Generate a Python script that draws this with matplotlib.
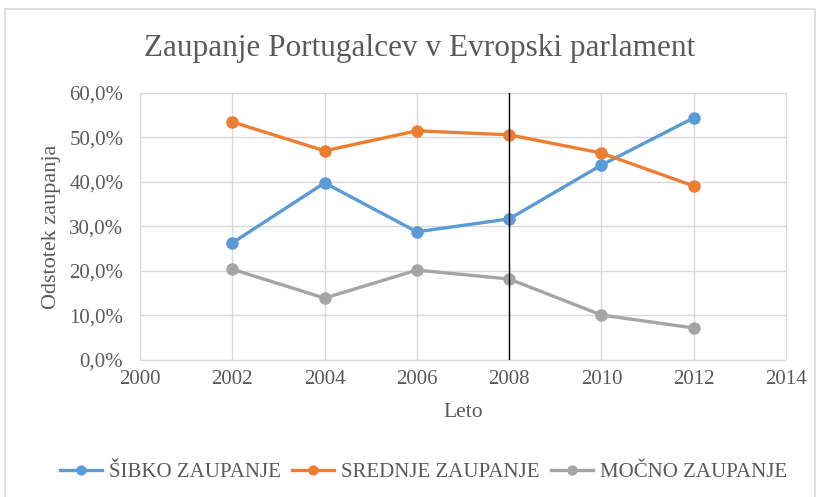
import matplotlib.pyplot as plt
from matplotlib.patches import Rectangle
from matplotlib.ticker import FuncFormatter, MultipleLocator

plt.rcParams["font.family"] = ["Liberation Serif", "DejaVu Serif"]

years = [2002, 2004, 2006, 2008, 2010, 2012]
sibko = [26.3, 39.8, 28.8, 31.7, 43.8, 54.4]
srednje = [53.5, 47.0, 51.5, 50.6, 46.5, 39.1]
mocno = [20.4, 13.9, 20.2, 18.2, 10.1, 7.2]

series = [
    ("ŠIBKO ZAUPANJE", sibko, "#5B9BD5"),
    ("SREDNJE ZAUPANJE", srednje, "#ED7D31"),
    ("MOČNO ZAUPANJE", mocno, "#A5A5A5"),
]

text_color = "#595959"
grid_color = "#D9D9D9"

fig = plt.figure(figsize=(8.21, 4.97), dpi=100)
ax = fig.add_axes([0.1705, 0.2757, 0.7869, 0.5372])

# light frame round the whole chart
fig.patches.append(Rectangle((5 / 821, -0.05), 810 / 821, 1 - 9 / 497 + 0.05,
                             transform=fig.transFigure, fill=False,
                             edgecolor="#D9D9D9", linewidth=1.2))

for label, values, color in series:
    ax.plot(years, values, color=color, linewidth=2.4, marker="o",
            markersize=8, label=label, zorder=3)

ax.axvline(2008, color="black", linewidth=1.0, zorder=4)

ax.set_xlim(2000, 2014)
ax.set_ylim(0, 60)
ax.xaxis.set_major_locator(MultipleLocator(2))
ax.yaxis.set_major_locator(MultipleLocator(10))
ax.yaxis.set_major_formatter(
    FuncFormatter(lambda v, _: f"{v:.1f}%".replace(".", ",")))

ax.grid(True, color=grid_color, linewidth=1.0, zorder=0)
for spine in ax.spines.values():
    spine.set_color(grid_color)
ax.tick_params(length=0, labelsize=15, labelcolor=text_color)
ax.tick_params(axis="y", pad=12)
ax.tick_params(axis="x", pad=7)

ax.set_xlabel("Leto", fontsize=15.5, color=text_color, labelpad=10)
ax.set_ylabel("Odstotek zaupanja", fontsize=16, color=text_color, labelpad=6)

fig.text(0.511, 0.903, "Zaupanje Portugalcev v Evropski parlament",
         ha="center", va="center", fontsize=22.5, color=text_color)

fig.legend(loc="center", bbox_to_anchor=(0.516, 0.05), ncol=3, frameon=False,
           fontsize=15, labelcolor=text_color, handlelength=2.0,
           handletextpad=0.35, columnspacing=0.55, markerscale=0.8)

fig.savefig("out.png", dpi=100)
